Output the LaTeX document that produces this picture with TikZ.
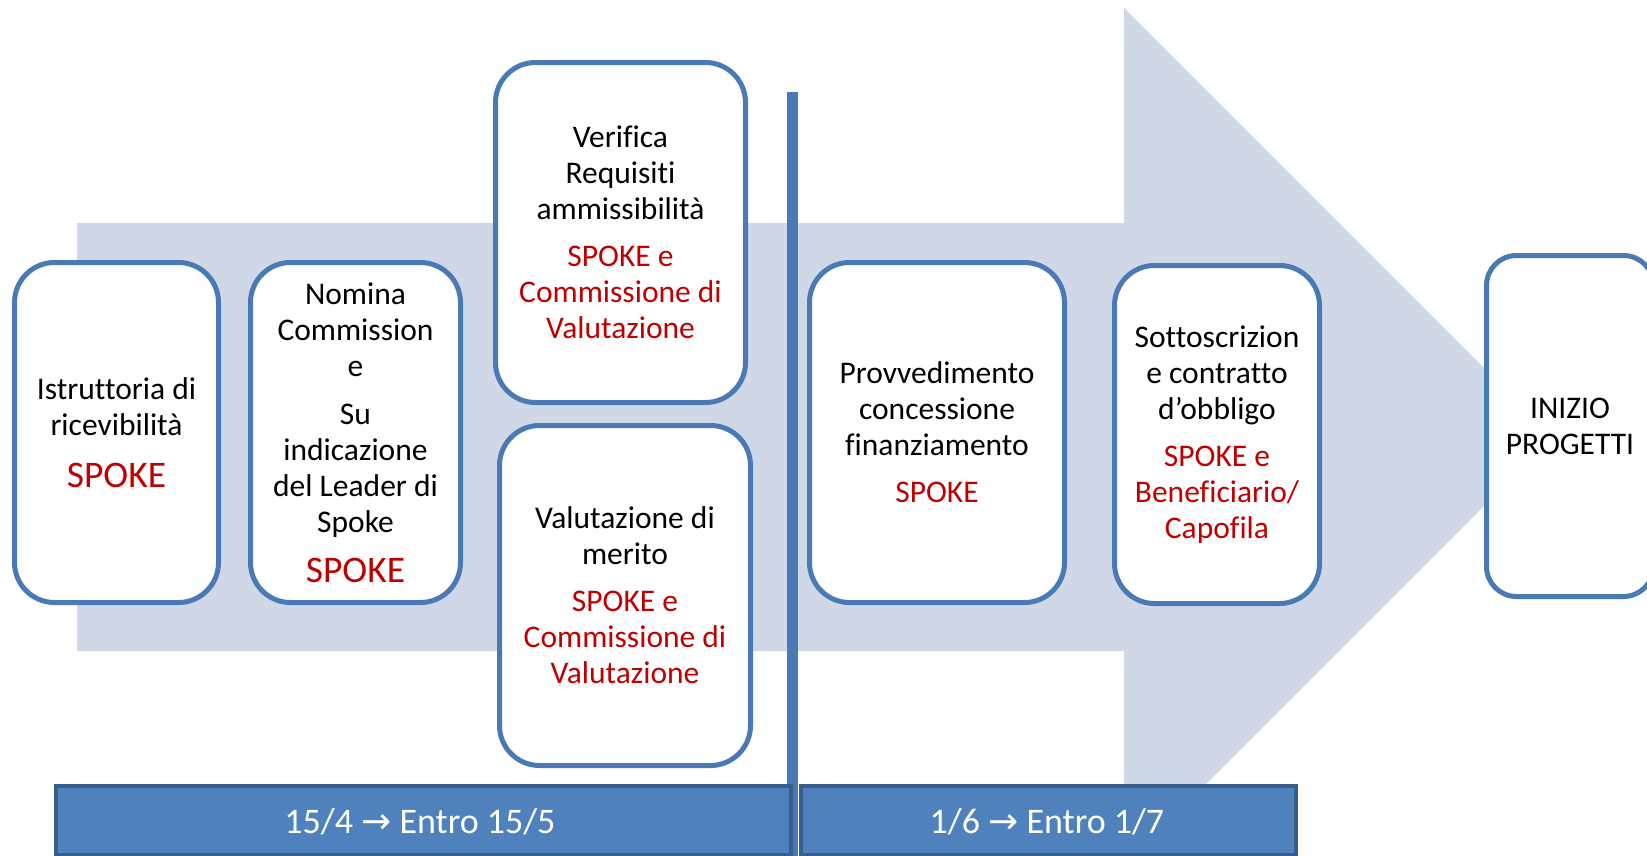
\documentclass[tikz,border=0pt]{standalone}
\usepackage{fontspec}
\setmainfont{Carlito}[Ligatures={NoCommon,NoContextual}, Contextuals={NoAlternate}, RawFeature={-liga}]
\newfontfamily\arrowfont{DejaVu Sans}
\definecolor{arrowfill}{HTML}{D0D8E8}
\definecolor{boxline}{HTML}{4A7AB5}
\definecolor{barfill}{HTML}{4F81BD}
\definecolor{barline}{HTML}{385D8A}
\definecolor{spokered}{HTML}{C00000}
\newcommand\rd[1]{\textcolor{spokered}{#1}}
\newcommand\bigspoke{\textcolor{spokered}{\fontsize{37.5}{36}\selectfont SPOKE}}
\begin{document}
\begin{tikzpicture}[x=1pt,y=-1pt,
  stagebox/.style={draw=boxline, line width=5pt, fill=white, rounded corners=40pt,
    inner sep=0pt, align=center, font=\fontsize{31.5}{36}\selectfont},
  barbox/.style={draw=barline, line width=4pt, fill=barfill, inner sep=0pt},
  bartext/.style={text=white, font=\fontsize{36}{40}\selectfont}]
\useasboundingbox (0,0) rectangle (1647,855);
\clip (0,0) rectangle (1647,855);
% big background arrow
\fill[arrowfill] (77,223) -- (1124,223) -- (1124,8) -- (1553,437) -- (1124,866)
  -- (1124,651) -- (77,651) -- cycle;
% vertical separator
\coordinate (sepTop) at (792.5,92);
\coordinate (sepBot) at (792.5,860);
\draw[boxline, line width=11pt] (sepTop) -- (sepBot);
% stages
\node[stagebox, minimum width=204pt, minimum height=340pt] (b1) at (116.5,432.5)
  {Istruttoria di\\ricevibilità\\[16pt]\bigspoke};
\node[stagebox, minimum width=210pt, minimum height=340pt] (b2) at (355.5,432.5)
  {Nomina\\Commission\\e\\[12pt]Su\\indicazione\\del Leader di\\Spoke\\[14pt]\bigspoke};
\node[stagebox, minimum width=250pt, minimum height=340pt] (b3) at (620.5,232.5)
  {Verifica\\Requisiti\\ammissibilità\\[11pt]\rd{SPOKE e}\\\rd{Commissione di}\\\rd{Valutazione}};
\node[stagebox, minimum width=251pt, minimum height=340pt] (b4) at (625,595.5)
  {Valutazione di\\merito\\[11pt]\rd{SPOKE e}\\\rd{Commissione di}\\\rd{Valutazione}};
\node[stagebox, minimum width=255pt, minimum height=340pt] (b5) at (937,432.5)
  {Provvedimento\\concessione\\finanziamento\\[11pt]\rd{SPOKE}};
\node[stagebox, minimum width=205pt, minimum height=338pt] (b6) at (1217,434.5)
  {Sottoscrizion\\e contratto\\d’obbligo\\[11pt]\rd{SPOKE e}\\\rd{Beneficiario/}\\\rd{Capofila}};
\node[stagebox, rounded corners=30pt, minimum width=167pt, minimum height=341pt] (b7) at (1570,426)
  {INIZIO\\PROGETTI};
% timeline bars
\node[barbox, minimum width=735pt, minimum height=69pt, anchor=north west] (bar1) at (54,784) {};
\node[barbox, minimum width=495pt, minimum height=69pt, anchor=north west] (bar2) at (799,784) {};
\node[bartext] (t1) at (420,822) {15/4 {\arrowfont →} Entro 15/5};
\node[bartext] (t2) at (1047,822) {1/6 {\arrowfont →} Entro 1/7};
\end{tikzpicture}
\end{document}
